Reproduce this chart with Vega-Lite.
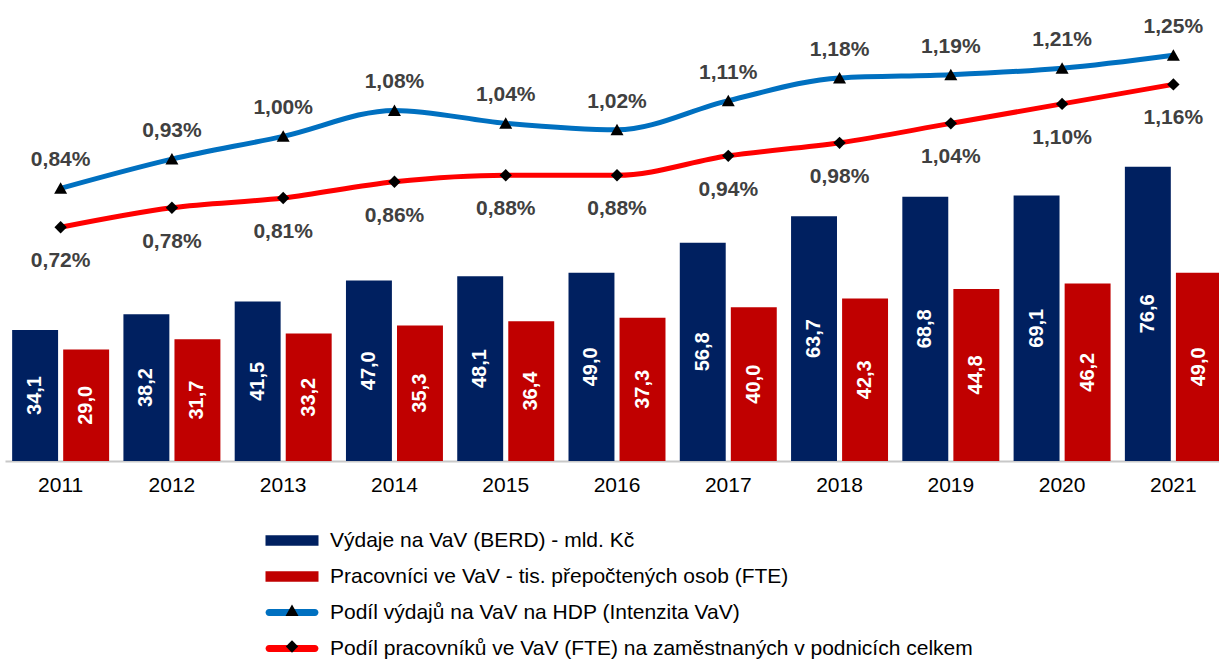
{
  "$schema": "https://vega.github.io/schema/vega-lite/v6.json",
  "autosize": "none",
  "width": 1219,
  "height": 461,
  "padding": {"left": 0, "top": 0, "right": 0, "bottom": 201},
  "config": {
    "font": "Liberation Sans",
    "view": {"stroke": null},
    "locale": {"number": {"decimal": ",", "thousands": " ", "grouping": [3], "currency": ["", " Kč"]}}
  },
  "data": {
    "values": [
      {"year": "2011", "berd": 34.1, "fte": 29.0, "int": 0.0084, "share": 0.0072},
      {"year": "2012", "berd": 38.2, "fte": 31.7, "int": 0.0093, "share": 0.0078},
      {"year": "2013", "berd": 41.5, "fte": 33.2, "int": 0.0100, "share": 0.0081},
      {"year": "2014", "berd": 47.0, "fte": 35.3, "int": 0.0108, "share": 0.0086},
      {"year": "2015", "berd": 48.1, "fte": 36.4, "int": 0.0104, "share": 0.0088},
      {"year": "2016", "berd": 49.0, "fte": 37.3, "int": 0.0102, "share": 0.0088},
      {"year": "2017", "berd": 56.8, "fte": 40.0, "int": 0.0111, "share": 0.0094},
      {"year": "2018", "berd": 63.7, "fte": 42.3, "int": 0.0118, "share": 0.0098},
      {"year": "2019", "berd": 68.8, "fte": 44.8, "int": 0.0119, "share": 0.0104},
      {"year": "2020", "berd": 69.1, "fte": 46.2, "int": 0.0121, "share": 0.0110},
      {"year": "2021", "berd": 76.6, "fte": 49.0, "int": 0.0125, "share": 0.0116}
    ]
  },
  "transform": [{"fold": ["berd", "fte", "int", "share"], "as": ["series", "value"]}],
  "encoding": {
    "x": {
      "field": "year",
      "type": "nominal",
      "scale": {"range": [5, 1229], "paddingInner": 0, "paddingOuter": 0},
      "axis": {
        "title": null,
        "labelFontSize": 21,
        "labelColor": "black",
        "labelAngle": 0,
        "ticks": false,
        "labelPadding": 13,
        "domainColor": "#c8c8c8",
        "domainWidth": 2,
        "grid": false
      }
    }
  },
  "layer": [
    {
      "transform": [{"filter": "datum.series == 'berd' || datum.series == 'fte'"}],
      "mark": {"type": "bar", "clip": true},
      "encoding": {
        "xOffset": {"field": "series", "type": "nominal", "scale": {"domain": ["berd", "fte"], "paddingInner": 0.1, "paddingOuter": 0.14}},
        "y": {"field": "value", "type": "quantitative", "scale": {"domain": [0, 120], "nice": false}, "axis": null},
        "color": {
          "field": "series",
          "type": "nominal",
          "scale": {"domain": ["berd", "fte", "int", "share"], "range": ["#002060", "#C00000", "#0070C0", "#FF0000"]},
          "legend": {
            "title": null,
            "orient": "none",
            "legendX": 281.5,
            "legendY": 530,
            "direction": "vertical",
            "symbolSize": 400,
            "labelFontSize": 21,
            "labelColor": "black",
            "labelOffset": 27.5,
            "labelLimit": 1000,
            "rowPadding": 14,
            "padding": 0,
            "labelExpr": "datum.label == 'berd' ? 'Výdaje na VaV (BERD) - mld. Kč' : datum.label == 'fte' ? 'Pracovníci ve VaV - tis. přepočtených osob (FTE)' : datum.label == 'int' ? 'Podíl výdajů na VaV na HDP (Intenzita VaV)' : 'Podíl pracovníků ve VaV (FTE) na zaměstnaných v podnicích celkem'",
            "encode": {
              "symbols": {
                "update": {
                  "shape": {"signal": "(datum.value == 'berd' || datum.value == 'fte') ? 'M-2.65,-0.52H2.65V0.52H-2.65Z' : 'M-2.3,-0.34H2.3A0.34,0.34 0 0 1 2.3,0.34H-2.3A0.34,0.34 0 0 1 -2.3,-0.34Z'"},
                  "fill": {"scale": "color", "field": "value"},
                  "stroke": {"value": "transparent"},
                  "strokeWidth": {"value": 0},
                  "opacity": {"value": 1}
                }
              }
            }
          }
        }
      }
    },
    {
      "transform": [{"filter": "datum.series == 'berd' || datum.series == 'fte'"}],
      "mark": {"type": "text", "angle": 270, "fontSize": 20, "fontWeight": "bold", "color": "white", "align": "center", "baseline": "middle"},
      "encoding": {
        "xOffset": {"field": "series", "type": "nominal"},
        "y": {"field": "value", "type": "quantitative", "scale": {"domain": [0, 240], "nice": false}, "axis": null},
        "text": {"field": "value", "type": "quantitative", "format": ".1f"}
      }
    },
    {
      "transform": [{"filter": "datum.series == 'int' || datum.series == 'share'"}],
      "mark": {"type": "line", "strokeWidth": 5, "interpolate": "monotone"},
      "encoding": {
        "y": {"field": "value", "type": "quantitative", "scale": {"domain": [0, 0.0142], "nice": false}, "axis": null},
        "color": {"field": "series", "type": "nominal"}
      }
    },
    {
      "transform": [{"filter": "datum.series == 'int' || datum.series == 'share'"}],
      "mark": {"type": "point", "filled": true, "size": 400, "opacity": 1},
      "encoding": {
        "y": {"field": "value", "type": "quantitative", "scale": {"domain": [0, 0.0142], "nice": false}, "axis": null},
        "color": {"value": "black"},
        "shape": {
          "field": "series",
          "type": "nominal",
          "scale": {"domain": ["int", "share"], "range": ["M0,-0.6L0.65,0.55L-0.65,0.55Z", "M0,-0.62L0.62,0L0,0.62L-0.62,0Z"]},
          "legend": {
            "title": null,
            "orient": "none",
            "legendX": 281.5,
            "legendY": 600,
            "direction": "vertical",
            "symbolSize": 400,
            "labelFontSize": 21,
            "labelExpr": "' '",
            "labelOpacity": 0,
            "labelOffset": 27.5,
            "labelLimit": 1000,
            "rowPadding": 14,
            "padding": 0,
            "symbolFillColor": "black",
            "symbolStrokeColor": "black",
            "symbolStrokeWidth": 0,
            "symbolOpacity": 1
          }
        }
      }
    },
    {
      "transform": [{"filter": "datum.series == 'int'"}],
      "mark": {"type": "text", "dy": -28, "fontSize": 21, "fontWeight": "bold", "color": "#404040", "align": "center", "baseline": "middle"},
      "encoding": {
        "y": {"field": "value", "type": "quantitative", "scale": {"domain": [0, 0.0142], "nice": false}, "axis": null},
        "text": {"field": "value", "type": "quantitative", "format": ".2%"}
      }
    },
    {
      "transform": [{"filter": "datum.series == 'share'"}],
      "mark": {"type": "text", "dy": 34, "fontSize": 21, "fontWeight": "bold", "color": "#404040", "align": "center", "baseline": "middle"},
      "encoding": {
        "y": {"field": "value", "type": "quantitative", "scale": {"domain": [0, 0.0142], "nice": false}, "axis": null},
        "text": {"field": "value", "type": "quantitative", "format": ".2%"}
      }
    }
  ],
  "resolve": {"scale": {"y": "independent"}}
}
